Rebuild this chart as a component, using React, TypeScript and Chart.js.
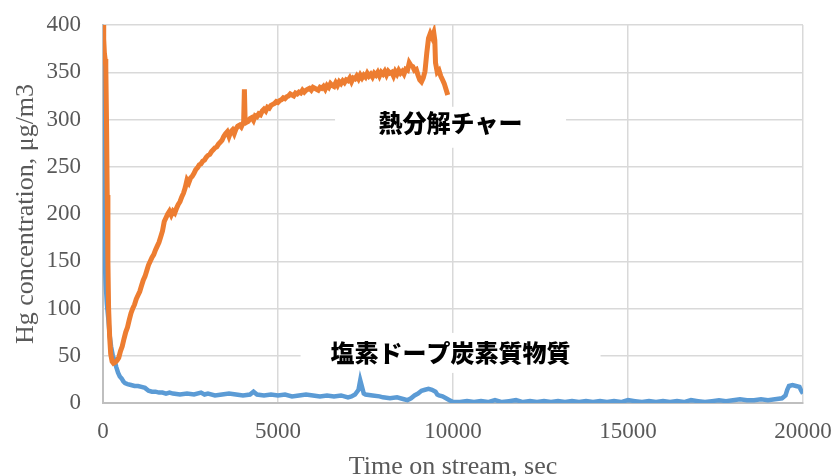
import React, { useEffect, useRef } from 'react';
import { Chart, registerables } from 'chart.js';

Chart.register(...registerables);

// 熱分解チャー (pyrolysis char)
const charTimes = [
  0, 20, 40, 60, 80, 100, 120, 140, 160, 190, 220, 260, 300, 350, 400, 450, 500, 550, 600, 650,
  700, 750, 800, 850, 900, 950, 1000, 1050, 1100, 1150, 1200, 1250, 1300, 1350, 1400, 1450, 1500, 1550, 1600, 1650,
  1700, 1750, 1800, 1850, 1900, 1950, 2000, 2050, 2100, 2150, 2200, 2250, 2300, 2350, 2400, 2450, 2500, 2550, 2600, 2650,
  2700, 2750, 2800, 2850, 2900, 2950, 3000, 3050, 3100, 3150, 3200, 3250, 3300, 3350, 3400, 3450, 3500, 3550, 3600, 3650,
  3700, 3750, 3800, 3850, 3900, 3950, 4000, 4020, 4040, 4060, 4100, 4150, 4200, 4250, 4300, 4350, 4400, 4450, 4500, 4550,
  4600, 4650, 4700, 4750, 4800, 4850, 4900, 4950, 5000, 5050, 5100, 5150, 5200, 5250, 5300, 5350, 5400, 5450, 5500, 5550,
  5600, 5650, 5700, 5750, 5800, 5850, 5900, 5950, 6000, 6050, 6100, 6150, 6200, 6250, 6300, 6350, 6400, 6450, 6500, 6550,
  6600, 6650, 6700, 6750, 6800, 6850, 6900, 6950, 7000, 7050, 7100, 7150, 7200, 7250, 7300, 7350, 7400, 7450, 7500, 7550,
  7600, 7650, 7700, 7750, 7800, 7850, 7900, 7950, 8000, 8050, 8100, 8150, 8200, 8250, 8300, 8350, 8400, 8450, 8500, 8550,
  8600, 8650, 8700, 8750, 8800, 8850, 8900, 8950, 9000, 9050, 9100, 9150, 9200, 9250, 9300, 9350, 9400, 9450, 9480, 9500,
  9550, 9600, 9650, 9700, 9750, 9800, 9850,
];
const charValues = [
  400, 385, 370, 364, 356, 300, 220, 150, 100, 70, 52, 44, 42, 43, 45, 48, 55, 60, 68, 75,
  80, 88, 95, 100, 104, 110, 114, 118, 124, 130, 134, 140, 146, 150, 154, 157, 162, 166, 170, 176,
  182, 192, 196, 200, 203, 199, 203, 201, 206, 210, 213, 218, 222, 228, 236, 233, 238, 240, 243, 247,
  249, 252, 253, 256, 257, 260, 262, 263, 266, 268, 270, 271, 274, 276, 278, 282, 285, 287, 282, 287,
  289, 285, 290, 293, 294, 292, 296, 300, 332, 300, 297, 298, 301, 302, 299, 304, 303, 306, 305, 309,
  311, 309, 313, 312, 315, 316, 317, 319, 318, 320, 321, 323, 322, 324, 325, 327, 326, 325, 328, 327,
  329, 328, 331, 329, 331, 332, 333, 331, 334, 333, 332, 331, 334, 333, 335, 332, 336, 334, 338, 336,
  335, 339, 336, 340, 338, 341, 339, 342, 341, 344, 340, 344, 343, 346, 343, 347, 344, 347, 345, 349,
  346, 348, 345, 349, 347, 350, 346, 350, 348, 351, 347, 351, 349, 350, 346, 351, 348, 352, 349, 351,
  348, 353, 352, 360, 357, 356, 352, 353, 347, 342, 340, 344, 351, 370, 386, 391, 387, 392, 384, 360,
  350, 352, 346, 342, 338, 332, 326,
];

// 塩素ドープ炭素質物質 (chlorine-doped carbonaceous material)
const dopedTimes = [
  0, 15, 30, 50, 80, 110, 150, 190, 230, 280, 330, 380, 430, 480, 530, 580, 630, 700, 800, 900,
  1000, 1100, 1200, 1300, 1400, 1500, 1600, 1700, 1800, 1900, 2000, 2200, 2400, 2600, 2800, 2900, 3000, 3200, 3400, 3600,
  3800, 4000, 4200, 4300, 4400, 4600, 4800, 5000, 5200, 5400, 5600, 5800, 6000, 6200, 6400, 6600, 6800, 7000, 7100, 7200,
  7300, 7350, 7400, 7450, 7500, 7700, 7900, 8000, 8200, 8400, 8600, 8700, 8800, 8900, 9000, 9100, 9200, 9300, 9400, 9500,
  9550, 9600, 9700, 9800, 9900, 10000, 10200, 10400, 10600, 10800, 11000, 11200, 11400, 11600, 11800, 12000, 12200, 12400, 12600, 12800,
  13000, 13200, 13400, 13600, 13800, 14000, 14200, 14400, 14600, 14800, 15000, 15200, 15400, 15600, 15800, 16000, 16200, 16400, 16600, 16800,
  17000, 17200, 17400, 17600, 17800, 18000, 18200, 18400, 18600, 18800, 19000, 19200, 19400, 19500, 19550, 19600, 19700, 19800, 19900, 19950,
  20000,
];
const dopedValues = [
  370, 300, 200, 150, 125, 105, 90, 72, 60, 50, 45, 38, 32, 28, 26, 23, 21, 20, 19, 18,
  18, 17, 16, 13, 12, 12, 11, 11, 10, 11, 10, 9, 10, 9, 11, 9, 10, 8, 9, 10,
  9, 8, 9, 12, 9, 8, 9, 8, 9, 7, 8, 9, 8, 7, 8, 7, 8, 6, 7, 9,
  14, 24, 17, 10, 9, 8, 7, 6, 5, 6, 4, 3, 5, 8, 10, 13, 14, 15, 14, 12,
  9, 8, 7, 5, 3, 1, 1, 2, 1, 2, 1, 3, 1, 2, 3, 1, 2, 1, 2, 1,
  2, 1, 2, 1, 2, 1, 2, 1, 2, 1, 3, 2, 1, 2, 1, 2, 1, 2, 1, 3,
  2, 1, 2, 3, 2, 3, 4, 3, 3, 4, 3, 4, 5, 8, 14, 18, 19, 18, 17, 13,
  10,
];

const seriesNames = ['熱分解チャー', '塩素ドープ炭素質物質'];
const seriesColors = ['#ED7D31', '#5B9BD5'];
const xTickValues = [0, 5000, 10000, 15000, 20000];
const yTickValues = [0, 50, 100, 150, 200, 250, 300, 350, 400];
const xTitle = 'Time on stream, sec';
const yTitle = 'Hg concentration, μg/m3';

// label anchors in data coordinates
const labelAnchors = [
  { x: 9930, y: 296, boxW: 231, boxH: 41, boxDy: 4 },
  { x: 9930, y: 53, boxW: 300, boxH: 40, boxDy: 0 },
];

const labelPlugin = {
  id: 'seriesLabels',
  beforeDatasetsDraw(chart: any) {
    const { ctx, scales } = chart;
    ctx.save();
    labelAnchors.forEach((a, i) => {
      const cx = scales.x.getPixelForValue(a.x);
      const cy = scales.y.getPixelForValue(a.y);
      ctx.fillStyle = '#ffffff';
      ctx.fillRect(cx - a.boxW / 2, cy - a.boxH / 2 + a.boxDy, a.boxW, a.boxH);
      ctx.fillStyle = '#000000';
      ctx.font = '900 24px "Noto Sans CJK JP"';
      ctx.textAlign = 'center';
      ctx.textBaseline = 'middle';
      ctx.fillText(seriesNames[i], cx, cy);
    });
    ctx.restore();
  },
};

export default function App() {
  const ref = useRef<HTMLCanvasElement | null>(null);
  useEffect(() => {
    if (!ref.current) return;
    const mk = (ts: number[], vs: number[]) => ts.map((t, i) => ({ x: t, y: vs[i] }));
    const chart = new Chart(ref.current, {
      type: 'line',
      data: {
        datasets: [
          {
            label: seriesNames[0],
            data: mk(charTimes, charValues),
            borderColor: seriesColors[0],
            borderWidth: 5,
            pointRadius: 0,
            tension: 0,
          },
          {
            label: seriesNames[1],
            data: mk(dopedTimes, dopedValues),
            borderColor: seriesColors[1],
            borderWidth: 4.5,
            pointRadius: 0,
            tension: 0,
          },
        ],
      },
      options: {
        responsive: false,
        animation: false,
        devicePixelRatio: 1,
        layout: { autoPadding: false, padding: { top: 25, right: 29, left: 0, bottom: 0 } },
        plugins: { legend: { display: false }, tooltip: { enabled: false } },
        scales: {
          x: {
            type: 'linear',
            min: 0,
            max: 20000,
            afterBuildTicks: (s: any) => { s.ticks = xTickValues.map((v) => ({ value: v })); },
            afterFit: (s: any) => { s.height = 73; s.paddingLeft = 0; s.paddingRight = 0; },
            grid: { color: '#d9d9d9', lineWidth: 1.5, drawTicks: false },
            border: { color: '#bfbfbf', width: 2 },
            ticks: {
              padding: 15,
              maxRotation: 0,
              color: '#595959',
              font: { family: '"Liberation Serif"', size: 23 },
              callback: (v: any) => String(v),
            },
            title: {
              display: true,
              text: xTitle,
              color: '#595959',
              font: { family: '"Liberation Serif"', size: 26, lineHeight: 0.7 },
              padding: { top: 0, bottom: 0 },
            },
          },
          y: {
            type: 'linear',
            min: 0,
            max: 400,
            afterBuildTicks: (s: any) => { s.ticks = yTickValues.map((v) => ({ value: v })); },
            afterFit: (s: any) => { s.width = 103; s.paddingTop = 0; s.paddingBottom = 0; },
            grid: { color: '#d9d9d9', lineWidth: 1.5, drawTicks: false },
            border: { color: '#bfbfbf', width: 2 },
            ticks: {
              padding: 22,
              color: '#595959',
              font: { family: '"Liberation Serif"', size: 23 },
              callback: (v: any) => String(v),
            },
            title: {
              display: true,
              text: yTitle,
              color: '#595959',
              font: { family: '"Liberation Serif"', size: 26, lineHeight: 1 },
              padding: { top: 13, bottom: 0 },
            },
          },
        },
      },
      plugins: [labelPlugin],
    });
    return () => chart.destroy();
  }, []);
  return (
    <div style={{ position: 'absolute', left: 0, top: 0, width: 832, height: 476, background: '#fff' }}>
      <canvas ref={ref} width={832} height={476} style={{ display: 'block' }} />
    </div>
  );
}
